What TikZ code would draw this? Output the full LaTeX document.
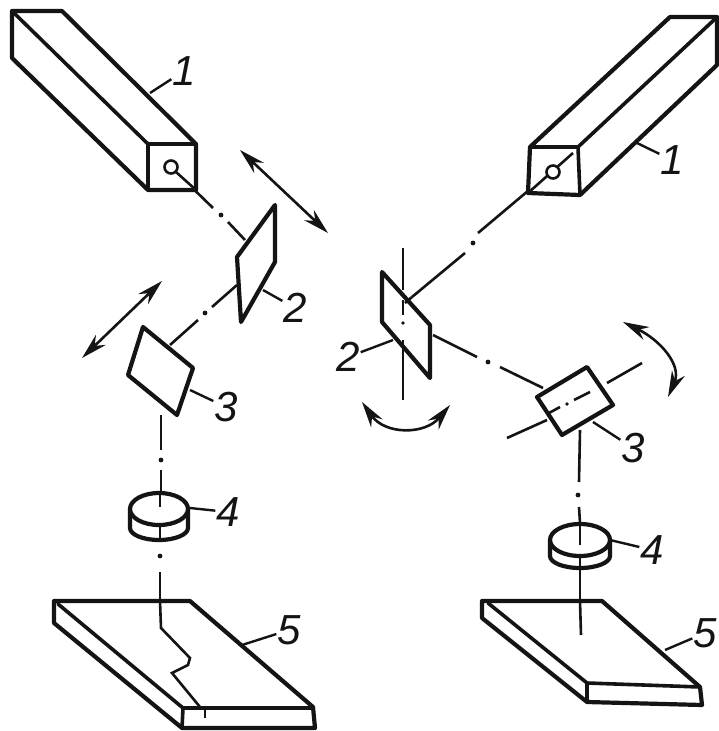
\documentclass[tikz,border=0pt]{standalone}
\usepackage{fontspec}
\setmainfont{Liberation Sans}
\usetikzlibrary{arrows.meta, positioning, calc}
\definecolor{inkblack}{HTML}{141414}
\tikzset{
  body/.style={inkblack, line width=4.2pt, line join=round, fill=white},
  edgeline/.style={inkblack, line width=3.6pt, line cap=round},
  thinline/.style={inkblack, line width=2.6pt},
  leader/.style={inkblack, line width=2.4pt},
  moveto/.style={inkblack, line width=2.6pt, {Stealth[length=26pt,width=14pt]}-{Stealth[length=26pt,width=14pt]}},
  numlabel/.style={inkblack, font=\fontsize{42}{42}\selectfont\itshape, inner sep=0pt, outer sep=1pt}
}
\begin{document}
\begin{tikzpicture}[x=1pt, y=-1pt, >=Stealth]
  \useasboundingbox[fill=white] (0,0) rectangle (718,731);
  % Beams, left side
  \foreach \ax/\ay/\bx/\by in {176/172/213/208, 228/222/245/240, 237/285/212/307, 198/320/170/345,
      161/415/161/450, 161/470/161/493, 160/530/160/541, 160/572/160/601} {
    \draw[thinline] (\ax,\ay) -- (\bx,\by);
  }
  % Beams, right side
  \foreach \ax/\ay/\bx/\by in {478/233/573/153, 412/297/465/253, 433/335/477/357, 500/367/543/388,
      580/430/579/482, 579/507/580/523, 580/558/580/601} {
    \draw[thinline] (\ax,\ay) -- (\bx,\by);
  }
  \foreach \dx/\dy in {221/215, 205/313, 161/460, 160/556, 473/243, 488/362, 578/495} {
    \fill[inkblack] (\dx,\dy) circle (2.4pt);
  }
  % Source 1, left
  \draw[body] (12,11) -- (62,11) -- (196,144) -- (196,190) -- (148,190) -- (12,58) -- cycle;
  \draw[edgeline] (14,13) -- (148,144) -- (196,144) (148,144) -- (148,190);
  \draw[thinline] (171,167) circle (6.5pt);
  \draw[thinline] (176,172) -- (196,190);
  % Source 1, right
  \draw[body] (670,17) -- (717,17) -- (717,65) -- (580,195) -- (528,193) -- (530,147) -- cycle;
  \draw[edgeline] (715,19) -- (578,147) -- (530,147) (578,147) -- (580,195);
  \draw[thinline] (573,153) -- (528,193);
  \draw[thinline, fill=white] (553,172) circle (6.5pt);
  % Mirrors, left
  \draw[body] (275,205) -- (275,262) -- (241,322) -- (237,257) -- cycle;
  \draw[body] (143,327) -- (193,368) -- (177,415) -- (128,375) -- cycle;
  % Mirror 2, right, and its axis
  \draw[thinline] (403,248) -- (403,290);
  \draw[body] (382,272) -- (430,325) -- (430,378) -- (382,322) -- cycle;
  \draw[thinline] (403,340) -- (403,400) (403,300) -- (403,315);
  \fill[inkblack] (403,323) circle (1.8pt);
  \draw[thinline] (412,297) -- (405,303);
  % Mirror 3, right, and its axis
  \draw[thinline] (642,363) -- (607,383) (547,420) -- (507,438);
  \draw[body] (587,367) -- (613,405) -- (562,435) -- (537,397) -- cycle;
  \draw[thinline] (590,392) -- (574,400) (560,407) -- (549,413);
  \fill[inkblack] (567,404) circle (1.8pt);
  % Lens 4, left
  \draw[body] (130,509) -- (130,528) arc[start angle=180, end angle=360, x radius=29pt, y radius=12pt] -- (188,509);
  \draw[body] (159,509) ellipse (29pt and 16pt);
  \draw[thinline] (160,493) -- (160,507) (160,526) -- (160,540);
  % Lens 4, right
  \draw[body] (550,540) -- (550,556) arc[start angle=180, end angle=360, x radius=30pt, y radius=12pt] -- (610,540);
  \draw[body] (580,540) ellipse (30pt and 16pt);
  \draw[thinline] (580,523) -- (580,545);
  \draw[thinline] (580,556) -- (580,568);
  % Workpiece 5, left
  \draw[body] (54,601) -- (190,601) -- (313,707) -- (315,728) -- (182,728) -- (54,623) -- cycle;
  \draw[edgeline] (58,604) -- (183,708) -- (313,708) (183,708) -- (182,728);
  \draw[thinline] (160,601) -- (161,628) -- (190,658) -- (188,665) -- (172,673) -- (200,707);
  \draw[thinline] (205,708) -- (205,718);
  % Workpiece 5, right
  \draw[body] (482,601) -- (602,601) -- (700,687) -- (702,705) -- (587,702) -- (482,618) -- cycle;
  \draw[edgeline] (488,603) -- (587,683) -- (700,687) (587,683) -- (587,702);
  \draw[thinline] (580,601) -- (581,635);
  % Motion arrows
  \draw[moveto] (240,150) -- (328,233);
  \draw[moveto] (162,281) -- (82,358);
  \draw[moveto] (362,402) .. controls (385,435) and (425,435) .. (450,405);
  \draw[moveto] (623,322) .. controls (660,340) and (682,365) .. (668,397);
  % Numbers
  \node[numlabel] (numOneL) at (184,71) {1};
  \node[numlabel] (numTwoL) at (295,308) {2};
  \node[numlabel] (numThreeL) at (226,407) {3};
  \node[numlabel] (numFourL) at (228,512) {4};
  \node[numlabel] (numFiveL) at (289,630) {5};
  \node[numlabel] (numOneR) at (672,160) {1};
  \node[numlabel] (numTwoR) at (348,357) {2};
  \node[numlabel] (numThreeR) at (633,448) {3};
  \node[numlabel] (numFourR) at (652,550) {4};
  \node[numlabel] (numFiveR) at (705,633) {5};
  % Leaders
  \foreach \px/\py/\num in {150/93/numOneL, 263/290/numTwoL, 190/390/numThreeL, 190/508/numFourL, 242/645/numFiveL,
      637/143/numOneR, 393/340/numTwoR, 593/422/numThreeR, 610/540/numFourR, 665/650/numFiveR} {
    \coordinate (from) at (\px,\py);
    \draw[leader] (from) -- (\num);
  }
\end{tikzpicture}
\end{document}
